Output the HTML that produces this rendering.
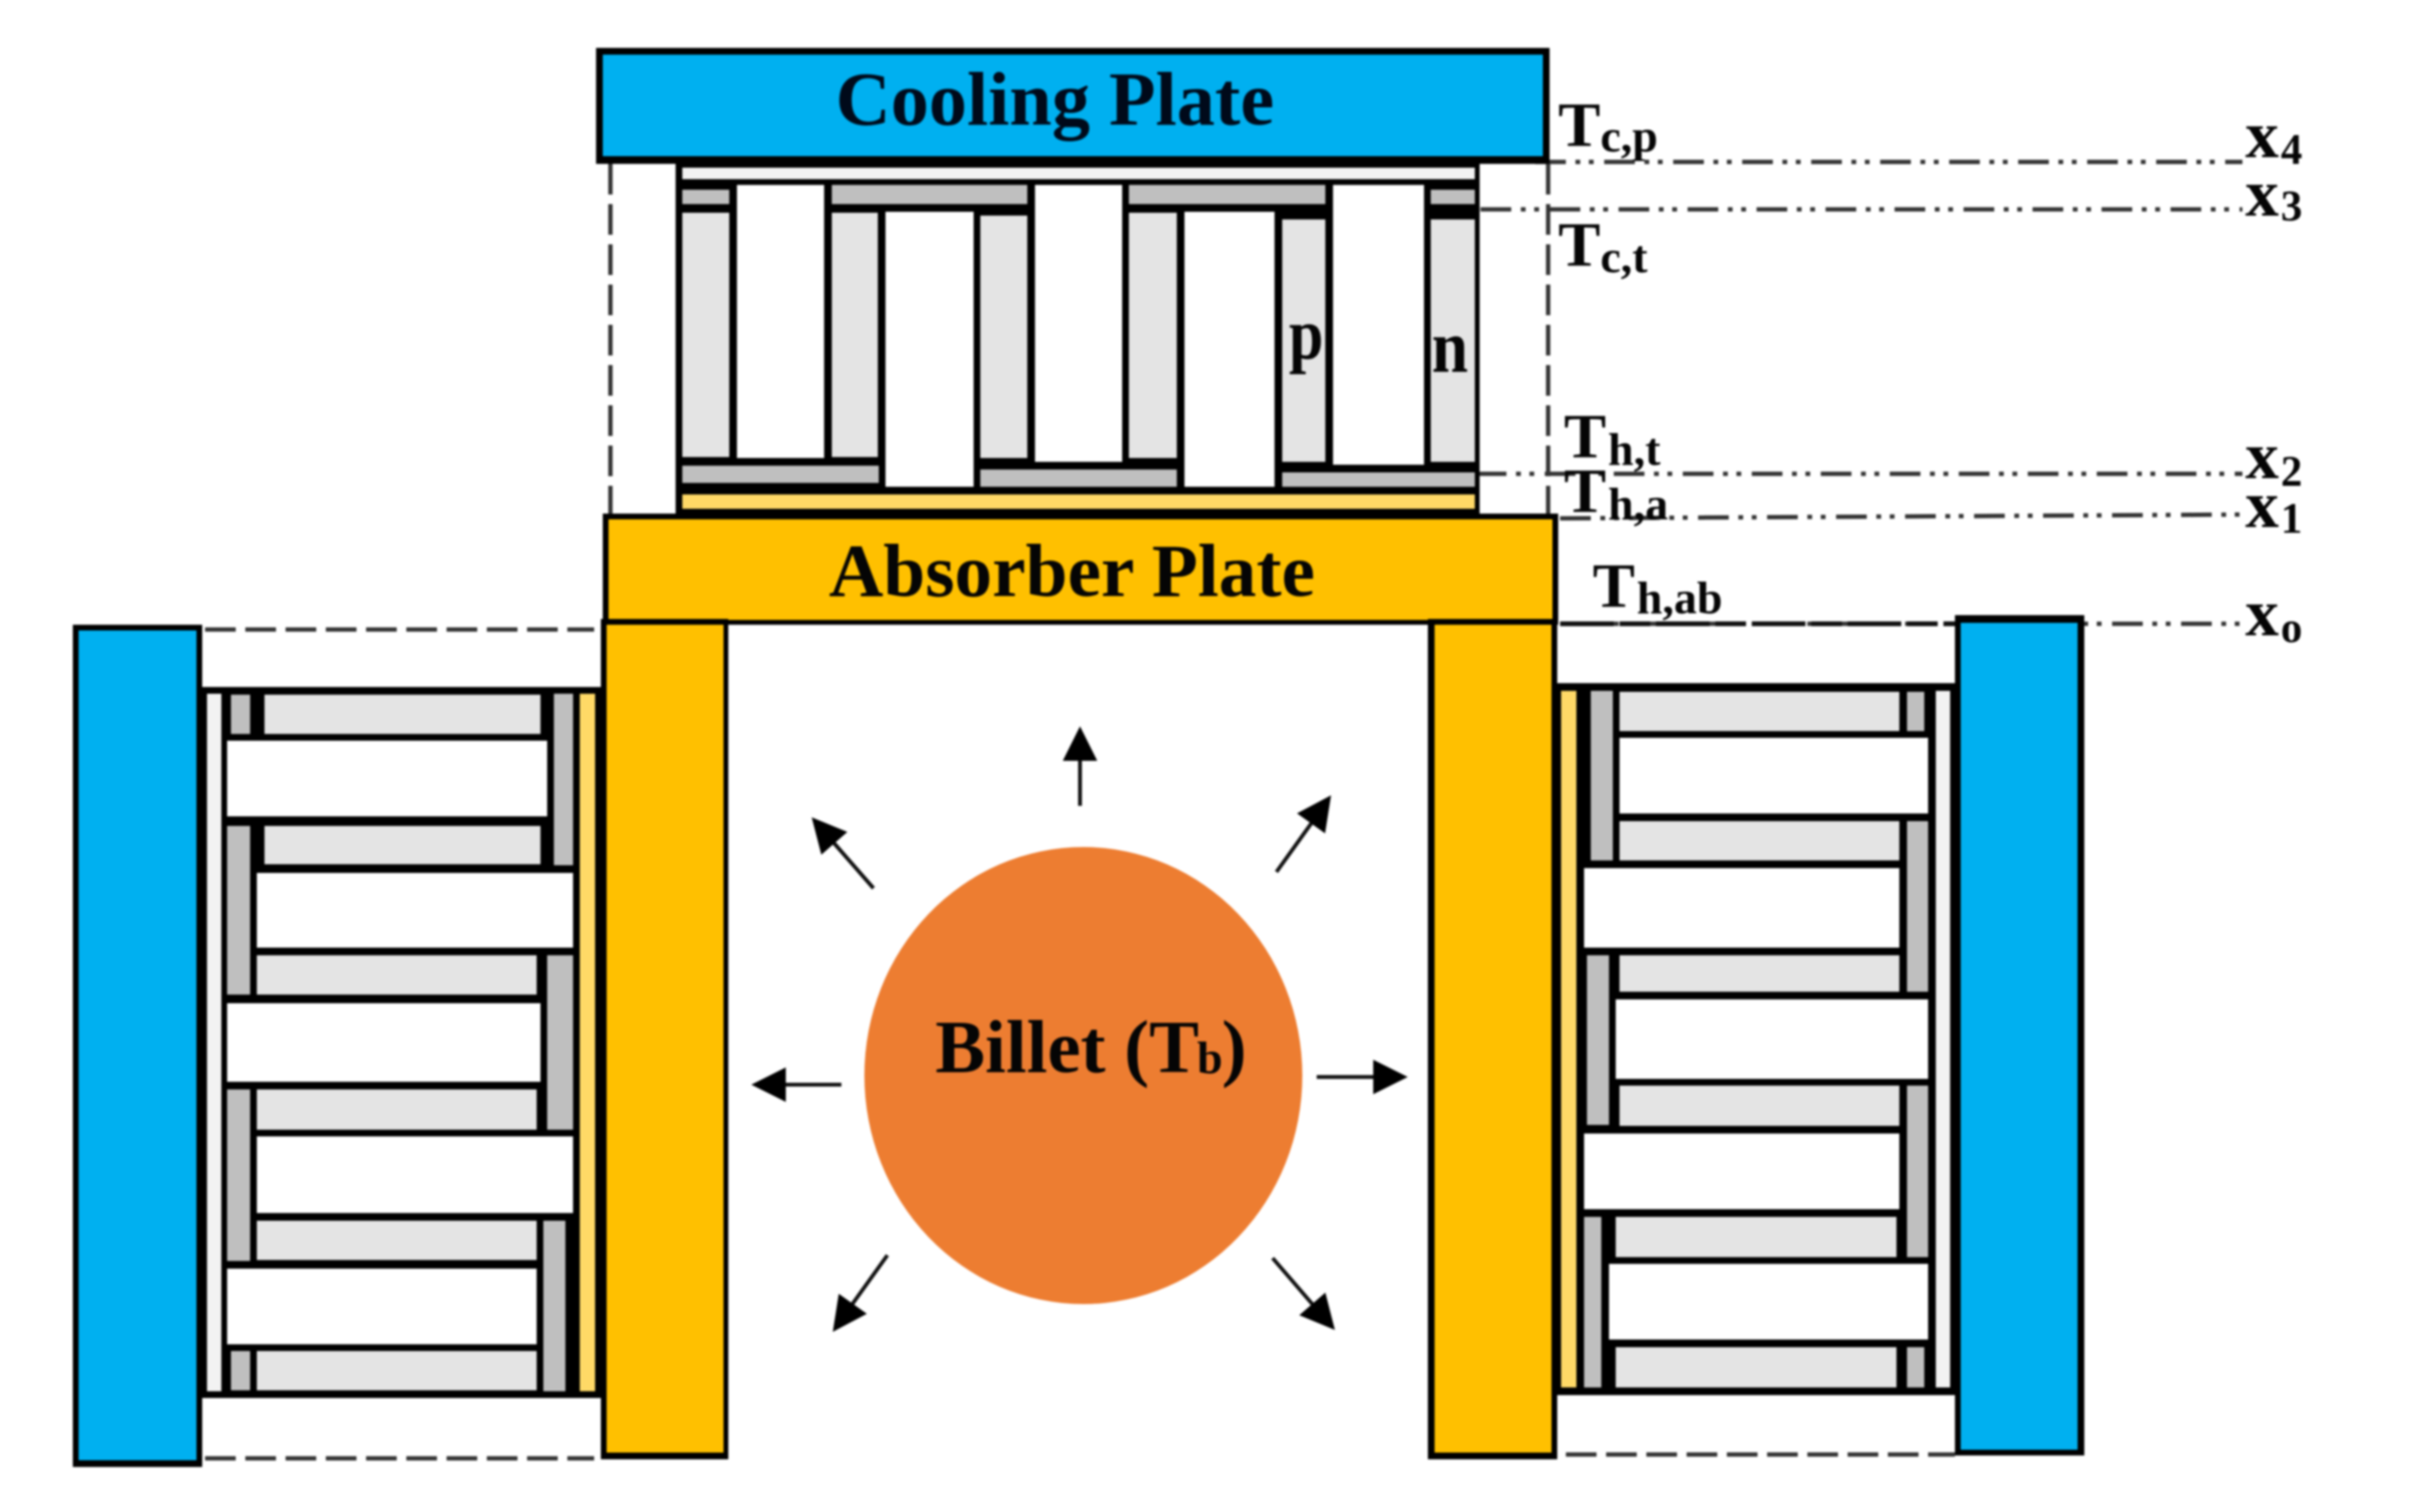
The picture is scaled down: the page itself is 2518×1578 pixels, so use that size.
<!DOCTYPE html>
<html>
<head>
<meta charset="utf-8">
<style>
html,body{margin:0;padding:0;background:#fff;width:2518px;height:1578px;overflow:hidden}
svg{display:block;filter:blur(1px)}
text{font-family:"Liberation Serif",serif;font-weight:bold;fill:#050505}
.k{fill:#000}.w{fill:#fff}.c{fill:#f2f2f2}.y{fill:#ffd966}.g{fill:#bfbfbf}.l{fill:#e4e4e4}
.b{fill:#00b0f0}.o{fill:#ffc000}
.dd{stroke:#333;stroke-width:4.5;fill:none;stroke-dasharray:32 10 5 9 5 11}
.d{stroke:#333;stroke-width:4.5;fill:none;stroke-dasharray:32 10}
.T{font-size:66px}.s{font-size:48px}.X{font-size:70px}.n{font-size:45px}
</style>
</head>
<body>
<svg width="2518" height="1578" viewBox="0 0 2518 1578" xmlns="http://www.w3.org/2000/svg">
<rect width="2518" height="1578" fill="#fff"/>

<!-- reference lines -->
<line class="dd" x1="1602" y1="169" x2="2340" y2="169"/>
<line class="dd" x1="1545" y1="218.5" x2="2340" y2="218.5"/>
<line class="dd" x1="1540" y1="494.5" x2="2340" y2="494.5"/>
<line class="dd" x1="1628" y1="541" x2="2340" y2="537"/>
<line class="dd" x1="1628" y1="651" x2="2340" y2="651"/>
<line stroke="#111" stroke-width="5" stroke-dasharray="56 6 32 6" x1="1628" y1="651" x2="2042" y2="651"/>

<!-- vertical dashes -->
<line class="d" x1="637" y1="171" x2="637" y2="536"/>
<line class="d" x1="1615.5" y1="171" x2="1615.5" y2="536"/>

<!-- side dashes -->
<line class="d" x1="214" y1="657" x2="620" y2="657"/>
<line class="d" x1="214" y1="1522" x2="620" y2="1522"/>
<line class="d" x1="1634" y1="1518" x2="2040" y2="1518"/>

<!-- Cooling plate -->
<rect class="k" x="622" y="50" width="995" height="121"/>
<rect class="b" x="629" y="57" width="981" height="106"/>

<!-- Top TE module -->
<rect class="k" x="705" y="169" width="839" height="371"/>
<rect class="c" x="712" y="175" width="827" height="12"/>
<rect class="g" x="712" y="198" width="49" height="15"/>
<rect class="g" x="868" y="193" width="204" height="20"/>
<rect class="g" x="1178" y="193" width="205" height="20"/>
<rect class="g" x="1493" y="198" width="46" height="15"/>
<rect class="w" x="769" y="193" width="91" height="285"/>
<rect class="w" x="924" y="221" width="92" height="287"/>
<rect class="w" x="1080" y="193" width="91" height="289"/>
<rect class="w" x="1236" y="221" width="94" height="287"/>
<rect class="w" x="1391" y="193" width="95" height="292"/>
<rect class="l" x="712" y="222" width="49" height="255"/>
<rect class="l" x="868" y="222" width="48" height="255"/>
<rect class="l" x="1023" y="225" width="49" height="253"/>
<rect class="l" x="1178" y="222" width="50" height="256"/>
<rect class="l" x="1338" y="229" width="45" height="253"/>
<rect class="l" x="1493" y="229" width="46" height="253"/>
<rect class="g" x="712" y="486" width="205" height="18"/>
<rect class="g" x="1023" y="490" width="205" height="18"/>
<rect class="g" x="1338" y="493" width="201" height="15"/>
<rect class="y" x="712" y="516" width="827" height="15"/>

<!-- Absorber plate -->
<rect class="k" x="629" y="536" width="997" height="116"/>
<rect class="o" x="635" y="542" width="985" height="105"/>

<!-- Left TE module -->
<rect class="k" x="211" y="717" width="416" height="742"/>
<rect class="c" x="216" y="724" width="15" height="728"/>
<rect class="y" x="605" y="724" width="16" height="728"/>
<rect class="l" x="276" y="725" width="288" height="41"/>
<rect class="g" x="241" y="725" width="20" height="41"/>
<rect class="g" x="578" y="724" width="20" height="179"/>
<rect class="w" x="237" y="773" width="334" height="79"/>
<rect class="l" x="276" y="862" width="288" height="40"/>
<rect class="g" x="237" y="862" width="24" height="176"/>
<rect class="w" x="268" y="911" width="330" height="78"/>
<rect class="l" x="268" y="997" width="292" height="41"/>
<rect class="g" x="571" y="997" width="27" height="182"/>
<rect class="w" x="237" y="1047" width="327" height="82"/>
<rect class="l" x="268" y="1137" width="292" height="42"/>
<rect class="g" x="237" y="1137" width="24" height="179"/>
<rect class="w" x="268" y="1186" width="330" height="80"/>
<rect class="l" x="268" y="1274" width="292" height="41"/>
<rect class="g" x="567" y="1274" width="23" height="178"/>
<rect class="w" x="237" y="1324" width="323" height="79"/>
<rect class="l" x="268" y="1410" width="292" height="41"/>
<rect class="g" x="241" y="1410" width="20" height="41"/>

<!-- Right TE module -->
<rect class="k" x="1620" y="713" width="420" height="743"/>
<rect class="y" x="1629" y="721" width="16" height="727"/>
<rect class="c" x="2020" y="721" width="15" height="727"/>
<rect class="l" x="1690" y="722" width="292" height="41"/>
<rect class="g" x="1660" y="721" width="23" height="177"/>
<rect class="g" x="1990" y="722" width="18" height="41"/>
<rect class="w" x="1690" y="770" width="322" height="79"/>
<rect class="l" x="1690" y="857" width="292" height="41"/>
<rect class="g" x="1990" y="857" width="22" height="178"/>
<rect class="w" x="1653" y="906" width="329" height="83"/>
<rect class="l" x="1690" y="997" width="292" height="38"/>
<rect class="g" x="1656" y="997" width="23" height="177"/>
<rect class="w" x="1686" y="1043" width="326" height="83"/>
<rect class="l" x="1690" y="1133" width="292" height="42"/>
<rect class="g" x="1990" y="1133" width="22" height="179"/>
<rect class="w" x="1653" y="1183" width="329" height="79"/>
<rect class="l" x="1686" y="1270" width="293" height="42"/>
<rect class="g" x="1653" y="1270" width="18" height="178"/>
<rect class="w" x="1679" y="1319" width="333" height="79"/>
<rect class="l" x="1686" y="1406" width="293" height="42"/>
<rect class="g" x="1990" y="1406" width="18" height="42"/>

<!-- Legs of absorber -->
<rect class="k" x="627" y="646" width="133" height="877"/>
<rect class="o" x="633" y="652" width="122" height="864"/>
<rect class="k" x="1490" y="646" width="135" height="877"/>
<rect class="o" x="1497" y="652" width="122" height="864"/>

<!-- Side cooling plates -->
<rect class="k" x="76" y="652" width="135" height="879"/>
<rect class="b" x="82" y="658" width="123" height="866"/>
<rect class="k" x="2040" y="642" width="135" height="877"/>
<rect class="b" x="2046" y="650" width="122" height="863"/>

<!-- Billet -->
<ellipse cx="1130.5" cy="1122.5" rx="228.5" ry="238.5" fill="#ed7d31"/>

<!-- Arrows -->
<defs>
<g id="h"><path d="M0,0 L-36,-18 L-36,18 Z" fill="#000"/></g>
</defs>
<g stroke="#111" stroke-width="4" fill="none">
<line x1="1127" y1="841" x2="1127" y2="785"/>
<line x1="1332" y1="910" x2="1370" y2="857"/>
<line x1="911.5" y1="927" x2="866" y2="875"/>
<line x1="878" y1="1132" x2="815" y2="1132"/>
<line x1="1374" y1="1124" x2="1440" y2="1124"/>
<line x1="926" y1="1310" x2="888" y2="1363"/>
<line x1="1328" y1="1313" x2="1372" y2="1364"/>
</g>
<use href="#h" transform="translate(1127,758) rotate(-90)"/>
<use href="#h" transform="translate(1389,830) rotate(-54.5)"/>
<use href="#h" transform="translate(847,853) rotate(-131.1)"/>
<use href="#h" transform="translate(784,1132) rotate(180)"/>
<use href="#h" transform="translate(1469,1124)"/>
<use href="#h" transform="translate(869,1390) rotate(125.5)"/>
<use href="#h" transform="translate(1393,1388) rotate(49.1)"/>

<!-- Labels -->
<text x="872" y="130" font-size="79.6" style="fill:#000a1a">Cooling Plate</text>
<text x="865" y="622" font-size="78.6">Absorber Plate</text>
<text x="976" y="1119" font-size="78">Billet (T<tspan font-size="48" dx="-2" dy="1">b</tspan><tspan dx="-1" dy="-1">)</tspan></text>

<text x="1345" y="374" font-size="76" textLength="36" lengthAdjust="spacingAndGlyphs">p</text>
<text x="1494" y="388" font-size="78" textLength="38" lengthAdjust="spacingAndGlyphs">n</text>

<text class="T" x="1626" y="152">T</text><text class="s" x="1670" y="158">c,p</text>
<text class="T" x="1626" y="277">T</text><text class="s" x="1670" y="284">c,t</text>
<text class="T" x="1632" y="477">T</text><text class="s" x="1678" y="485">h,t</text>
<text class="T" x="1632" y="534">T</text><text class="s" x="1678" y="542">h,a</text>
<text class="T" x="1662" y="633">T</text><text class="s" x="1708" y="640">h,ab</text>

<text class="X" x="2343" y="164">x</text><text class="n" x="2380" y="171">4</text>
<text class="X" x="2343" y="225">x</text><text class="n" x="2380" y="230">3</text>
<text class="X" x="2343" y="499">x</text><text class="n" x="2380" y="507">2</text>
<text class="X" x="2343" y="550">x</text><text class="n" x="2380" y="556">1</text>
<text class="X" x="2343" y="663">x</text><text class="n" x="2380" y="670">o</text>
</svg>
</body>
</html>
